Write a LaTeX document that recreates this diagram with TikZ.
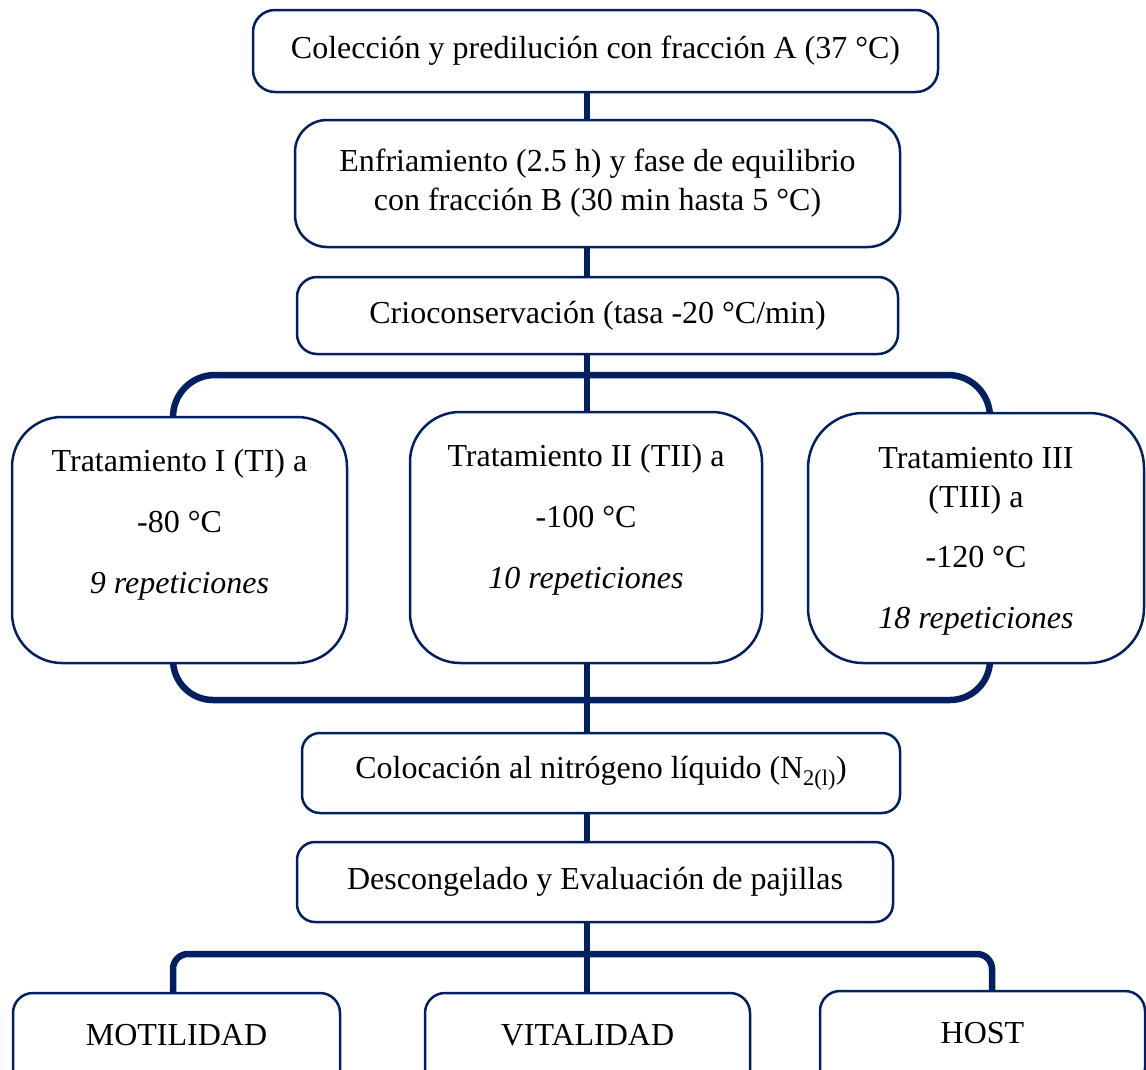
\documentclass[tikz,border=0pt]{standalone}
\usepackage{fontspec}
\setmainfont{Liberation Serif}
\usepackage{xcolor}
\usepackage{tikz}
\usetikzlibrary{backgrounds}
\definecolor{navy}{HTML}{002060}

\begin{document}
\begin{tikzpicture}[every node/.style={font=\fontsize{32bp}{39bp}\selectfont},
    box/.style={draw=navy,line width=2.5bp,fill=white,rounded corners=#1,inner sep=0pt},
    box/.default=20bp,
    endbox/.style={box,minimum height=97bp,text height=22bp,text depth=15bp},
    txt/.style={anchor=base,align=center,inner sep=0pt},
    link/.style={draw=navy,line width=6.5bp}]
    \useasboundingbox (0bp,0bp) rectangle (1146bp,-1070bp);
    \clip (0bp,0bp) rectangle (1146bp,-1070bp);
    \coordinate (spine) at (587bp,-375bp);
    \coordinate (upbar) at (587bp,-375bp);
    \coordinate (lowbar) at (587bp,-700bp);
    \coordinate (fanbar) at (587bp,-954bp);
    \node (c1) at (595.5bp,-51bp)[box=22bp,minimum width=685bp,minimum height=82bp] {Colección y predilución con fracción A (37 °C)};
    \node (c2) at (597.5bp,-183.5bp)[box=32bp,minimum width=605bp,minimum height=127bp,align=center] {Enfriamiento (2.5 h) y fase de equilibrio\\con fracción B (30 min hasta 5 °C)};
    \node (c3) at (597.5bp,-315.5bp)[box,minimum width=601bp,minimum height=77bp] {Crioconservación (tasa -20 °C/min)};
    \node (t1) at (179.5bp,-540bp)[box=50bp,minimum width=335bp,minimum height=246bp] {};
    \node (t2) at (586bp,-537.5bp)[box=50bp,minimum width=352bp,minimum height=251bp] {};
    \node (t3) at (976bp,-538bp)[box=55bp,minimum width=336bp,minimum height=250bp] {};
    % base = baseline of the last line
    \node (t1txt) at (179.5bp,-593bp)[txt] {Tratamiento I (TI) a\\[22bp]-80 °C\\[22bp]\textit{9 repeticiones}};
    \node (t2txt) at (586bp,-588bp)[txt] {Tratamiento II (TII) a\\[22bp]-100 °C\\[22bp]\textit{10 repeticiones}};
    \node (t3txt) at (976bp,-628bp)[txt] {Tratamiento III\\(TIII) a\\[21bp]-120 °C\\[22bp]\textit{18 repeticiones}};
    \node (c4) at (601bp,-773bp)[box=18bp,minimum width=598bp,minimum height=80bp] {Colocación al nitrógeno líquido (N\textsubscript{2(l)})};
    \node (c5) at (595bp,-882bp)[box=18bp,minimum width=596bp,minimum height=80bp] {Descongelado y Evaluación de pajillas};
    \node (m1) at (176.5bp,-1041.5bp)[endbox,minimum width=327bp] {MOTILIDAD};
    \node (m2) at (587.5bp,-1041.5bp)[endbox,minimum width=325bp] {VITALIDAD};
    \node (m3) at (982.5bp,-1039.5bp)[endbox,minimum width=325bp] {HOST};
    \begin{pgfonlayer}{background}
    \draw[link] (c1.south -| spine) -- (c2.north -| spine);
    \draw[link] (c2.south -| spine) -- (c3.north -| spine);
    \draw[link] (c3.south -| spine) -- (t2.north -| spine);
    \draw[link] (t2.south -| spine) -- (c4.north -| spine);
    \draw[link] (c4.south -| spine) -- (c5.north -| spine);
    \draw[link] (c5.south -| spine) -- (m2.north -| spine);
    \draw[link,rounded corners=42bp] ([xshift=-6.5bp]t1.north) |- (upbar) -| ([xshift=14bp]t3.north);
    \draw[link,rounded corners=40bp] ([xshift=-6.5bp]t1.south) |- (lowbar) -| ([xshift=14bp]t3.south);
    \draw[link,rounded corners=15bp] ([xshift=-3.5bp]m1.north) |- (fanbar) -| ([xshift=9.5bp]m3.north);
    \end{pgfonlayer}
\end{tikzpicture}
\end{document}
